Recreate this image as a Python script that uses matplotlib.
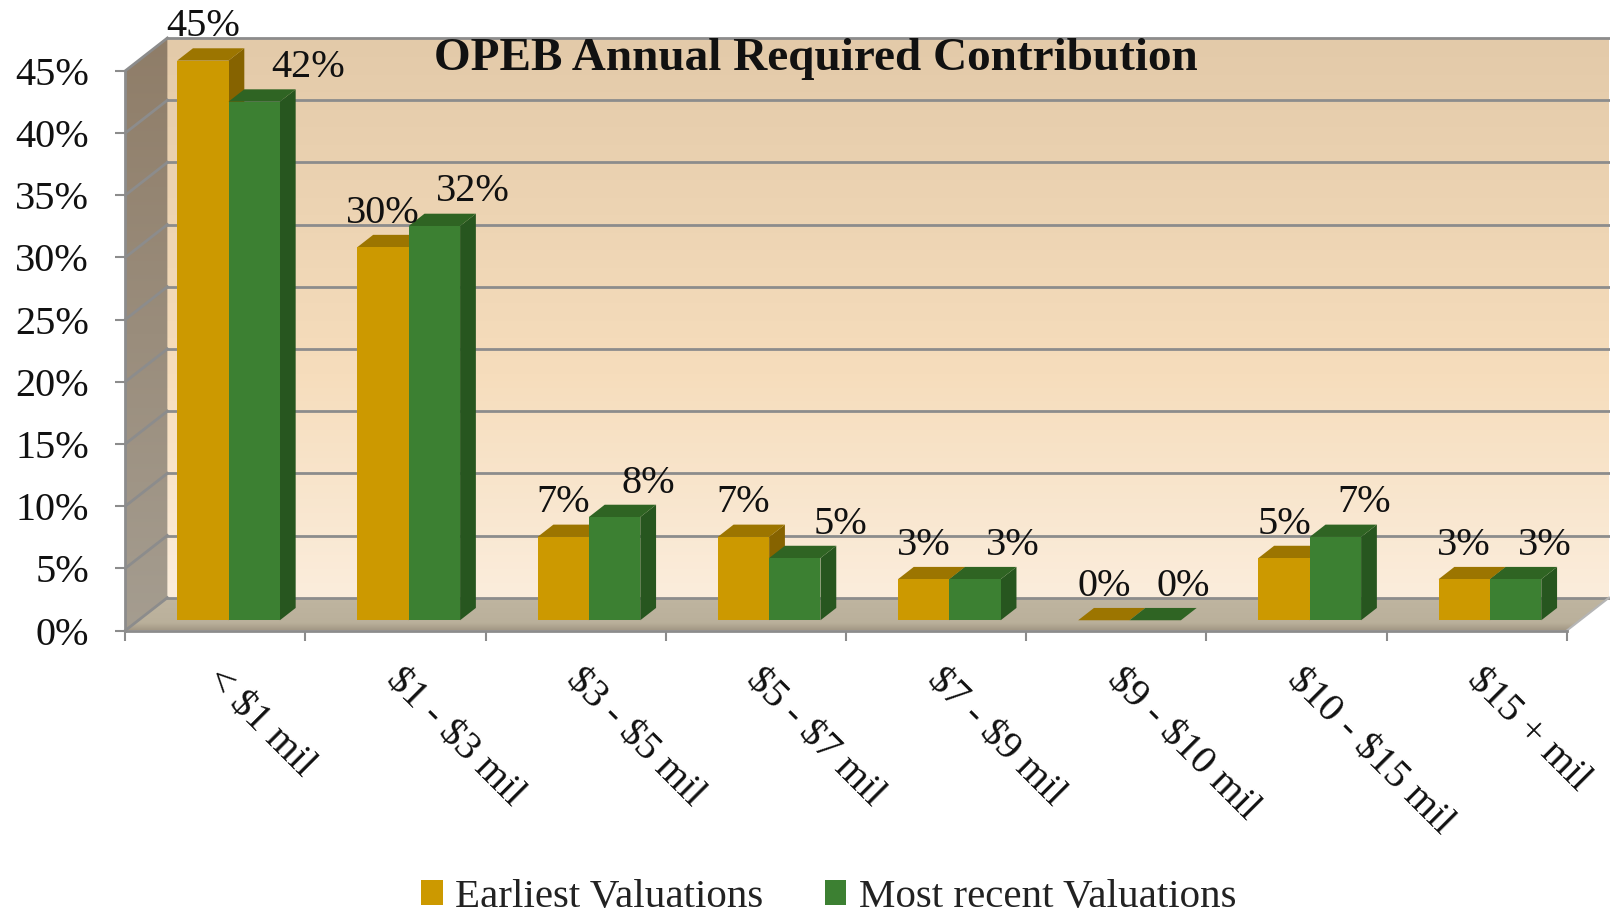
import numpy as np
import matplotlib
matplotlib.use("Agg")
import matplotlib.pyplot as plt
from matplotlib.colors import LinearSegmentedColormap
from matplotlib.patches import Polygon
from matplotlib.transforms import ScaledTranslation

categories = ["< $1 mil", "$1 - $3 mil", "$3 - $5 mil", "$5 - $7 mil",
              "$7 - $9 mil", "$9 - $10 mil", "$10 - $15 mil", "$15 + mil"]
earliest = [45, 30, 6.7, 6.7, 3.3, 0, 5, 3.3]
most_recent = [41.7, 31.7, 8.3, 5, 3.3, 0, 6.7, 3.3]
earliest_labels = ["45%", "30%", "7%", "7%", "3%", "0%", "5%", "3%"]
recent_labels = ["42%", "32%", "8%", "5%", "3%", "0%", "7%", "3%"]
y_ticks = [0, 5, 10, 15, 20, 25, 30, 35, 40, 45]

# hand placed label shift of the second series (points)
recent_label_shift = [39, 28, 24, 33, 27, 20, 21, 21]

GRID = "#8c8c8c"
GOLD = ("#cc9900", "#9c7500", "#866300")
GREEN = ("#3c8032", "#2f6423", "#27561f")

# depth of the 3d box in data units
depth_x = 0.2336
depth_y = 2.64
# bars stand a bit inside the floor
inset = 0.3125
bar_depth = 0.375
bar_w = 0.285

plt.rcParams["font.family"] = ["Liberation Serif", "DejaVu Serif"]

fig = plt.figure(figsize=(16.1, 9.16), dpi=100)
ax = fig.add_axes([122 / 1568, 1 - 614 / 892, (1526 - 122) / 1568, (614 - 69) / 892])


def gradient(poly_pts, stops, z):
    cmap = LinearSegmentedColormap.from_list("g", stops)
    xs = [p[0] for p in poly_pts]
    ys = [p[1] for p in poly_pts]
    img = ax.imshow(np.linspace(0, 1, 256).reshape(-1, 1), cmap=cmap, aspect="auto",
                    extent=[min(xs), max(xs), min(ys), max(ys)], zorder=z)
    patch = Polygon(poly_pts, closed=True, transform=ax.transData, facecolor="none", edgecolor="none", clip_on=False)
    ax.add_patch(patch)
    img.set_clip_box(fig.bbox)
    img.set_clip_path(patch)


x_end = len(categories)
y_top = y_ticks[-1]

# back wall, side wall, floor
gradient([(depth_x, depth_y), (x_end + depth_x, depth_y), (x_end + depth_x, y_top + depth_y), (depth_x, y_top + depth_y)],
         [(0, "#e3caa9"), (0.6, "#f6ddbc"), (1, "#fbeddc")], 1)
gradient([(0, 0), (depth_x, depth_y), (depth_x, y_top + depth_y), (0, y_top)],
         [(0, "#8f7d68"), (1, "#a59d90")], 2)
gradient([(0, 0), (depth_x, depth_y), (x_end + depth_x, depth_y), (x_end, 0)],
         [(0, "#bfb5a0"), (0.75, "#bab09b"), (1, "#a09582")], 2)

# grid on back and side wall
for v in y_ticks:
    ax.plot([depth_x, x_end + depth_x], [v + depth_y, v + depth_y], color=GRID, lw=2, zorder=3, clip_on=False)
    ax.plot([0, depth_x], [v, v + depth_y], color=GRID, lw=2, zorder=3, clip_on=False)
ax.plot([x_end, x_end + depth_x], [0, depth_y], color="#b5b5b5", lw=1.5, zorder=3, clip_on=False)

# 3d bars
base = depth_y * inset
x0 = np.arange(len(categories)) + (1 - 2 * bar_w) / 2 + depth_x * inset
dx = depth_x * bar_depth
dy = depth_y * bar_depth
z = 4
handles = []
for s, (vals, cols, name) in enumerate([(earliest, GOLD, "Earliest Valuations"),
                                        (most_recent, GREEN, "Most recent Valuations")]):
    handles.append(None)
    for i, v in enumerate(vals):
        left = x0[i] + s * bar_w
        right = left + bar_w
        top = base + v
        ax.fill([right, right + dx, right + dx, right], [base, base + dy, top + dy, top],
                color=cols[2], lw=0, zorder=z + s + 2 * i, clip_on=False)
        ax.fill([left, left + dx, right + dx, right], [top, top + dy, top + dy, top],
                color=cols[1], lw=0, zorder=z + s + 2 * i, clip_on=False)
        b = ax.bar(left, v, bar_w, bottom=base, align="edge", color=cols[0], lw=0,
                   zorder=z + s + 2 * i, clip_on=False, label=name if i == 0 else None)
        if i == 0:
            handles[s] = b

# data labels
for i in range(len(categories)):
    ax.annotate(earliest_labels[i], (x0[i] + bar_w / 2, base + earliest[i]), xytext=(0, 24.5),
                textcoords="offset points", ha="center", va="center", fontsize=29, color="#111111",
                zorder=50, annotation_clip=False)
    ax.annotate(recent_labels[i], (x0[i] + 1.5 * bar_w, base + most_recent[i]),
                xytext=(recent_label_shift[i], 24.5), textcoords="offset points",
                ha="center", va="center", fontsize=29, color="#111111", zorder=50, annotation_clip=False)

ax.set_xlim(0, x_end)
ax.set_ylim(0, y_top)
ax.set_facecolor("none")
for side in ["top", "right"]:
    ax.spines[side].set_visible(False)
for side in ["left", "bottom"]:
    ax.spines[side].set_color(GRID)
    ax.spines[side].set_linewidth(2)
    ax.spines[side].set_zorder(3)

ax.set_yticks(y_ticks)
ax.set_yticklabels([f"{v}%" for v in y_ticks], fontsize=29, color="#111111")
ax.tick_params(axis="y", length=7, width=1.5, color=GRID, pad=19)
ax.set_xticks(np.arange(x_end + 1))
ax.set_xticklabels([])
ax.tick_params(axis="x", which="major", length=7, width=1.5, color=GRID)
ax.set_xticks(np.arange(x_end) + 0.5, minor=True)
ax.set_xticklabels([c.replace("$", r"\$") for c in categories], minor=True, rotation=-45, ha="left", va="center",
                   rotation_mode="anchor", fontsize=29, color="#111111")
ax.tick_params(axis="x", which="minor", length=0, pad=32)
shift = ScaledTranslation(-3 / 72, 0, fig.dpi_scale_trans)
for lab in ax.get_xticklabels(minor=True):
    lab.set_transform(lab.get_transform() + shift)

fig.text(795 / 1568, 1 - 57 / 892, "OPEB Annual Required Contribution", ha="center", va="center",
         fontsize=34, fontweight="bold", color="#111111", zorder=60)

fig.legend([h[0] for h in handles], ["Earliest Valuations", "Most recent Valuations"], loc="center",
           bbox_to_anchor=(807 / 1568, 1 - 874 / 892), ncol=2, frameon=False, fontsize=29.5,
           handlelength=0.53, handleheight=0.53, handletextpad=0.3, columnspacing=1.5, labelcolor="#222222")

fig.savefig("out.png", dpi=100)
